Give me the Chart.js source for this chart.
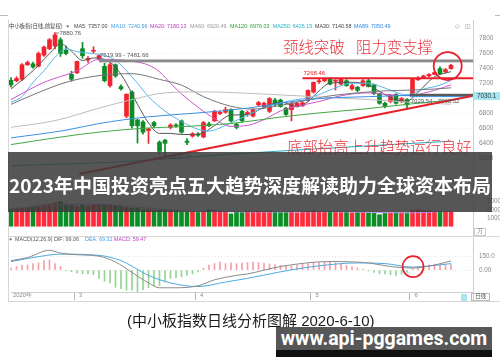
<!DOCTYPE html>
<html><head><meta charset="utf-8">
<script src="https://cdn.jsdelivr.net/npm/chart.js@4.4.0/dist/chart.umd.min.js"></script>
<style>
html,body{margin:0;padding:0;background:#fff;width:500px;height:362px;overflow:hidden;}
body{position:relative;font-family:"Liberation Sans",Arial,sans-serif;}
canvas{position:absolute;left:0;}
.t{position:absolute;white-space:nowrap;line-height:1;}
.hd{font-size:5.4px;top:23.5px;}
.ln{position:absolute;background:#d6d6d6;}
.red{color:#e8343c;font-family:"Noto Sans CJK SC",sans-serif;font-weight:300;font-size:15.4px;}
</style></head><body>
<canvas id="cp" width="500" height="188" style="top:0"></canvas>
<canvas id="cv" width="500" height="50" style="top:186px"></canvas>
<canvas id="cm" width="500" height="66" style="top:236px"></canvas>

<div class="ln" style="left:0;top:15px;width:8px;height:1px;background:#bbb"></div>
<div class="ln" style="left:495px;top:15px;width:5px;height:1px;background:#bbb"></div>
<div class="ln" style="left:8px;top:20px;width:1px;height:282px"></div>
<div class="ln" style="left:473px;top:20px;width:1px;height:282px;background:#cfcfcf"></div>
<div class="ln" style="left:8px;top:236px;width:492px;height:1px"></div>
<div class="ln" style="left:8px;top:301px;width:492px;height:1px"></div>

<div class="t hd" style="left:9px;color:#444;font-family:'Noto Sans CJK SC',sans-serif">中小板指(日线,前复权)</div>
<div class="t hd" style="left:66px;color:#777">●</div>
<div class="t hd" style="left:74px;color:#444">MA5: 7357.00</div>
<div class="t hd" style="left:111px;color:#3aa0e8">MA10: 7240.96</div>
<div class="t hd" style="left:150px;color:#c038c0">MA20: 7180.13</div>
<div class="t hd" style="left:190px;color:#9a9a9a">MA60: 6920.49</div>
<div class="t hd" style="left:230px;color:#2e9e3a">MA120: 6976.03</div>
<div class="t hd" style="left:272.7px;color:#1fb0c8">MA250: 6426.15</div>
<div class="t hd" style="left:315px;color:#444">MA30: 7140.58</div>
<div class="t hd" style="left:354px;color:#2f86e0">MA89: 7050.49</div>
<div class="t" style="left:455px;top:23px;font-size:6px;color:#777">◇</div>
<div class="t" style="left:465px;top:23px;font-size:6px;color:#777">◫</div>

<div class="t" style="left:9px;top:237px;font-size:5.4px;color:#777">●</div>
<div class="t" style="left:15px;top:237px;font-size:5.4px;color:#555">MACD(12,26,9) DIF: 99.06</div>
<div class="t" style="left:85px;top:237px;font-size:5.4px;color:#3aa0e8">DEA: 69.32</div>
<div class="t" style="left:114px;top:237px;font-size:5.4px;color:#c038c0">MACD: 59.47</div>

<div class="t" style="left:474px;top:228px;font-size:5.5px;color:#777;border:1px solid #ccc;padding:0 2px">万</div>
<div class="t" style="left:461px;top:294px;width:6px;height:7px;background:#a8e6ee"></div>
<div class="t" style="left:471px;top:293px;font-size:5.5px;color:#555;border:1px solid #bbb;padding:0 3px;font-family:'Noto Sans CJK SC',sans-serif">日线</div>

<div class="t red" style="left:283px;top:39px">颈线突破</div>
<div class="t red" style="left:356px;top:39px">阻力变支撑</div>
<div class="t red" style="left:287px;top:138.5px">底部抬高上升趋势运行良好</div>

<div style="position:absolute;left:8px;top:152px;width:484px;height:60px;background:rgba(58,58,58,0.86);"></div>
<div class="t" style="left:8px;top:175px;width:484px;text-align:center;color:#fff;font-family:'Noto Sans CJK SC',sans-serif;font-weight:700;font-size:19px;">2023年中国投资亮点五大趋势深度解读助力全球资本布局</div>

<div class="t" style="left:127px;top:313px;font-size:15px;color:#1a1a1a;font-family:'Liberation Sans','Noto Sans CJK SC',sans-serif;">(中小板指数日线分析图解 2020-6-10)</div>
<div style="position:absolute;left:276px;top:327px;width:216px;height:23px;background:#575757;"></div>
<div style="position:absolute;left:276px;top:350px;width:216px;height:7px;background:#111;"></div>
<div class="t" style="left:276px;top:329px;width:216px;text-align:center;color:#fff;font-family:Roboto,sans-serif;font-weight:700;font-size:19.5px;">www.api-pggames.com</div>

<script>
// ---------------- DATA ----------------
const dates = ['2020-02-13','2020-02-14','2020-02-17','2020-02-18','2020-02-19','2020-02-20','2020-02-21','2020-02-24','2020-02-25','2020-02-26','2020-02-27','2020-02-28',
'2020-03-02','2020-03-03','2020-03-04','2020-03-05','2020-03-06','2020-03-09','2020-03-10','2020-03-11','2020-03-12','2020-03-13','2020-03-16','2020-03-17','2020-03-18','2020-03-19','2020-03-20','2020-03-23','2020-03-24','2020-03-25','2020-03-26','2020-03-27','2020-03-30','2020-03-31',
'2020-04-01','2020-04-02','2020-04-03','2020-04-07','2020-04-08','2020-04-09','2020-04-10','2020-04-13','2020-04-14','2020-04-15','2020-04-16','2020-04-17','2020-04-20','2020-04-21','2020-04-22','2020-04-23','2020-04-24','2020-04-27','2020-04-28','2020-04-29','2020-04-30',
'2020-05-06','2020-05-07','2020-05-08','2020-05-11','2020-05-12','2020-05-13','2020-05-14','2020-05-15','2020-05-18','2020-05-19','2020-05-20','2020-05-21','2020-05-22','2020-05-25','2020-05-26','2020-05-27','2020-05-28','2020-05-29',
'2020-06-01','2020-06-02','2020-06-03','2020-06-04','2020-06-05','2020-06-08','2020-06-09','2020-06-10'];
const padSlots = 4;

const open  = [7243,7235,7255,7449,7462,7430,7578,7664,7700,7784,7642,7320,
  7342,7664,7513,7630,7535,7428,7170,7450,7157,6761,7084,6710,6684,6568,6675,6413,6439,6610,6640,6697,6426,6494,
  6520,6481,6658,6697,6796,6813,6848,6654,6826,6780,6761,6913,6890,6826,6977,6977,6868,6848,6890,6900,6977,
  7084,7222,7235,7268,7230,7190,7235,7127,7148,7170,7235,7183,7062,6933,6955,7054,6955,6985,
  7062,7248,7277,7299,7320,7397,7355,7397];
const high  = [7276,7290,7465,7500,7485,7620,7700,7800,7880.76,7810,7700,7364,
  7500,7750,7560,7690,7590,7470,7470,7460,7180,7060,7100,6720,6700,6600,6690,6430,6450,6660,6660,6710,6461,6540,
  6540,6690,6680,6840,6830,6880,6860,6670,6840,6830,6860,6960,6950,7010,7000,6990,6880,6950,6950,6960,7115,
  7220,7268,7268,7275,7250,7268,7250,7190,7160,7250,7260,7190,7070,6950,7050,7060,7010,6995,
  7268,7290,7310,7330,7350,7420,7400,7455];
const low   = [7148,7220,7240,7440,7405,7420,7560,7650,7660,7560,7580,7230,
  7330,7535,7480,7610,7510,7220,7150,7280,7110,6740,6600,6400,6520,6396,6610,6260,6222.77,6590,6610,6530,6380,6480,
  6490,6470,6620,6690,6780,6800,6680,6590,6680,6760,6750,6900,6870,6810,6900,6880,6770,6697,6880,6890,6960,
  7070,7200,7220,7180,7110,7180,7160,7110,7090,7160,7150,7050,6920,6870,6940,6920,6940,6850,
  7050,7240,7265,7290,7315,7320,7340,7390];
const close = [7178,7265,7449,7480,7419,7600,7686,7784,7850,7600,7600,7255,
  7493,7570,7535,7640,7570,7235,7450,7300,7127,7054,6632,6632,6546,6590,6632,6288,6397,6641,6630,6546,6409,6525,
  6505,6675,6632,6826,6813,6848,6697,6610,6697,6810,6848,6942,6933,6997,6913,6890,6783,6933,6933,6940,7106,
  7213,7235,7255,7190,7238,7255,7170,7170,7106,7235,7157,7062,6933,6890,7041,6933,6997,6912,
  7255,7268,7299,7320,7345,7329,7384,7441];
const volume = [20100,21000,21900,22700,24000,24800,26300,26800,28700,30000,26800,26300,
  24000,26800,24000,26300,26300,26300,26300,24800,24000,22700,21900,21900,20100,20100,19300,19300,19300,19300,18900,17400,17000,17000,
  16700,18500,20100,19300,18500,17000,15000,17400,16700,17800,17000,18100,17400,18500,17000,16700,16700,17400,16300,17000,18000,
  18900,17800,17000,18000,17400,16700,17000,16300,16700,17000,16300,15600,14000,15600,16300,16700,16700,16300,
  19600,20100,19300,18900,18500,18500,17800,17400];

// moving averages: [index, value]
const ma5Pts   = [[0,7124],[4,7370],[7,7597],[9,7730],[11,7630],[13,7507],[15,7540],[17,7520],[19,7420],[21,7200],[23,6920],[25,6670],[27,6530],[29,6530],[31,6515],[33,6515],[35,6540],[37,6635],[40,6775],[43,6780],[46,6880],[49,6950],[52,6890],[54,6955],[56,7100],[58,7205],[62,7215],[65,7178],[67,7092],[70,6978],[72,6962],[74,7080],[77,7288],[80,7357]];
const ma10Pts  = [[0,6945],[2,7022],[4,7214],[6,7368],[8,7548],[10,7663],[12,7625],[15,7599],[17,7573],[19,7509],[21,7368],[23,7201],[25,7022],[28,6829],[31,6688],[34,6585],[36,6560],[39,6637],[42,6739],[45,6842],[48,6919],[51,6970],[55,7022],[58,7111],[62,7201],[65,7201],[68,7137],[72,7047],[75,7124],[78,7176],[80,7240.96]];
const ma20Pts  = [[0,6983],[6,7214],[12,7368],[16,7522],[22,7496],[25,7445],[27,7355],[29,7201],[31,7060],[34,6881],[37,6727],[40,6624],[43,6637],[46,6714],[49,6830],[52,6893],[56,6957],[60,7034],[65,7073],[69,7047],[72,7034],[76,7086],[80,7180.13]];
const ma30Pts  = [[0,6919],[4,7047],[10,7214],[16,7304],[22,7330],[27,7253],[31,7176],[35,7022],[40,6893],[44,6855],[50,6919],[57,7022],[63,7073],[68,7099],[73,7111],[77,7124],[80,7140.58]];
const ma60Pts  = [[0,6611],[8,6701],[16,6868],[22,6983],[28,7073],[35,7086],[45,7060],[55,7022],[65,6983],[73,6945],[80,6920.49]];
const ma89Pts  = [[0,6470],[10,6573],[16,6662],[25,6752],[34,6804],[43,6868],[50,6945],[56,6996],[65,7022],[73,7041],[80,7050.49]];
const ma120Pts = [[0,6380],[8,6470],[16,6547],[24,6598],[32,6624],[40,6662],[48,6739],[56,6804],[64,6855],[72,6919],[80,6976.03]];
const ma250Pts = [[0,6098],[20,6149],[40,6252],[60,6342],[80,6426.15]];
const volMaPts = [[0,21000],[8,25500],[16,26500],[24,22500],[32,18500],[40,17500],[48,17200],[56,17600],[64,17000],[72,16200],[80,18300]];

const dif = [[0,102],[3,135],[7,214],[9,183],[12,166],[16,150],[19,87],[22,-26],[25,-139],[27,-192],[30,-192],[34,-170],[37,-106],[41,-58],[43,-42],[49,38],[58,92],[65,77],[69,38],[73,22],[77,54],[80,99.06]];
const dea = [[0,92],[4,135],[9,172],[16,159],[20,102],[25,-58],[29,-139],[34,-179],[39,-130],[43,-90],[49,-19],[55,38],[63,77],[68,70],[73,32],[76,44],[80,69.32]];
const macdHist = [22,38,55,55,70,77,103,109,70,38,-10,-19,-35,-42,-42,-51,-90,-122,-138,-186,-202,-218,-218,-234,-212,-193,-170,-170,-128,-90,-83,-74,-58,-42,
  -20,20,55,70,87,70,77,70,75,82,87,80,74,66,58,50,45,45,52,62,70,77,80,85,87,78,66,52,38,22,8,-10,-26,-42,-42,-51,-58,-45,-26,
  22,38,55,55,64,55,58,59.47];

const priceTicks = [6200,6400,6600,6800,7000,7200,7400,7600,7800];
const volTicks = [10000,20000,30000];
const macdTicks = [0,150];
const neckline = [7481.66,7519.99], necklineFrom = 16;
const resistance = 7268.46, resistanceFrom = 53;
const band = [7029.54,7060.52], bandFrom = 72.5;
const trend = [[12.4,5987],[83.8,7032]];
const crossValue = 7030.1;
const circlePrice = [79.4,7432];
const circleMacd = [73.1,36.6];

// ---------------- BUILD ----------------
const labels = dates.concat(Array(padSlots).fill(''));
const N = labels.length;
const RED='#f2222f', GREEN='#0c8c27';
const up = close.map((c,i)=>c>=open[i]);
const cCol = up.map(u=>u?RED:GREEN);
function sparse(pts){const a=new Array(N).fill(null);pts.forEach(([i,v])=>a[i]=v);return a;}
function line(pts,color,w){return {type:'line',data:sparse(pts),borderColor:color,borderWidth:w||1,pointRadius:0,spanGaps:true,cubicInterpolationMode:'monotone',order:1,clip:false};}

Chart.defaults.font.family='"Liberation Sans", Arial, sans-serif';
const common = {responsive:false,animation:false,devicePixelRatio:1,events:[],
  plugins:{legend:{display:false},tooltip:{enabled:false}}};
const xHidden = {type:'category',offset:false,display:false};

const pricePlugin = {id:'pa', afterDatasetsDraw(chart){
  const {ctx,chartArea:a,scales:{x,y}}=chart; ctx.save();
  const X=v=>x.getPixelForValue(v), Y=v=>y.getPixelForValue(v);
  ctx.fillStyle='#8a8a8a'; ctx.fillRect(X(necklineFrom),Y(neckline[1]),a.right-X(necklineFrom),Y(neckline[0])-Y(neckline[1]));
  ctx.fillStyle='#5a5a5a'; ctx.fillRect(X(bandFrom),Y(band[1]),a.right-X(bandFrom),Y(band[0])-Y(band[1]));
  ctx.fillStyle='#3a8fd8'; ctx.fillRect(X(bandFrom),Y(band[0]),a.right-X(bandFrom),1);
  ctx.strokeStyle='#e8202a'; ctx.lineWidth=2;
  ctx.beginPath(); ctx.moveTo(X(resistanceFrom),Y(resistance)); ctx.lineTo(a.right,Y(resistance)); ctx.stroke();
  ctx.beginPath(); ctx.moveTo(X(trend[0][0]),Y(trend[0][1])); ctx.lineTo(X(trend[1][0]),Y(trend[1][1])); ctx.stroke();
  ctx.lineWidth=1.8; ctx.beginPath(); ctx.arc(X(circlePrice[0]),Y(circlePrice[1]),14,0,Math.PI*2); ctx.stroke();
  ctx.font='6px "Liberation Sans", Arial'; ctx.textBaseline='middle'; ctx.textAlign='left';
  const hi = Math.max(...high), hiI = high.indexOf(hi);
  const lo = Math.min(...low), loI = low.indexOf(lo);
  ctx.fillStyle='#555'; ctx.strokeStyle='#777'; ctx.lineWidth=1;
  ctx.beginPath(); ctx.moveTo(X(hiI)+1,Y(hi)+0.5); ctx.lineTo(X(hiI)+4,Y(hi)+0.5); ctx.stroke();
  ctx.fillText(hi.toFixed(2),X(hiI)+4.5,Y(hi)+0.5);
  ctx.fillText(neckline[1].toFixed(2)+' - '+neckline[0].toFixed(2),X(necklineFrom)+1,Y(neckline[1])-4.5);
  ctx.fillText(band[0].toFixed(2)+' - '+band[1].toFixed(2),X(bandFrom)+1,Y(band[0])+5);
  ctx.fillText(lo.toFixed(2),X(loI)+5,Y(lo)+1);
  ctx.fillStyle='#e8202a'; ctx.fillText(resistance.toFixed(2),X(resistanceFrom)+1,Y(resistance)-4.5);
  ctx.fillStyle='#a6e7f0'; ctx.fillRect(a.right+1,Y(crossValue)-4,26,8);
  ctx.fillStyle='#333'; ctx.font='6.3px "Liberation Sans", Arial'; ctx.fillText(String(crossValue),a.right+4,Y(crossValue));
  ctx.restore();
}};

new Chart(document.getElementById('cp'),{type:'bar',
  data:{labels,datasets:[
    line(ma250Pts,'#2aa9bb'),line(ma120Pts,'#44a844'),line(ma89Pts,'#3c8fe0'),line(ma60Pts,'#bdbdbd'),
    line(ma30Pts,'#777777'),line(ma20Pts,'#cc55cc'),line(ma10Pts,'#5ab4ee'),line(ma5Pts,'#555555'),
    {type:'bar',data:dates.map((d,i)=>[low[i],high[i]]),backgroundColor:cCol,barThickness:1,grouped:false,order:10,clip:false},
    {type:'bar',data:dates.map((d,i)=>[open[i],close[i]]),backgroundColor:cCol,barThickness:4,minBarLength:1,grouped:false,order:9,clip:false}
  ]},
  options:{...common,layout:{padding:{left:11,top:22,right:0,bottom:3}},
    scales:{x:xHidden,
      y:{position:'right',min:5931,max:8022,afterFit(s){s.width=27;},
        afterBuildTicks(s){s.ticks=priceTicks.map(v=>({value:v}));},
        ticks:{font:{size:6.5},color:'#888',padding:6,callback:v=>String(v)},
        grid:{color:'#ececec',drawTicks:false},border:{display:false,dash:[1,2]}}}},
  plugins:[pricePlugin]});

new Chart(document.getElementById('cv'),{type:'bar',
  data:{labels,datasets:[
    line(volMaPts,'#b48ee6'),
    {type:'bar',data:volume,backgroundColor:up.map(u=>u?'#ff2b3b':'#0b8e25'),barThickness:4,grouped:false,order:5,clip:false}
  ]},
  options:{...common,layout:{padding:{left:11,top:0,right:0,bottom:0}},
    scales:{x:xHidden,
      y:{position:'right',min:0,max:37000,afterFit(s){s.width=27;},
        afterBuildTicks(s){s.ticks=volTicks.map(v=>({value:v}));},
        ticks:{font:{size:6.3},color:'#888',padding:6,callback:v=>String(v)},
        grid:{display:false},border:{display:false}}}}});

function monthLabel(i){
  if(i>=dates.length) return '';
  if(i===0) return dates[0].slice(0,4)+'年';
  return dates[i].slice(5,7)!==dates[i-1].slice(5,7)? String(+dates[i].slice(5,7)) : '';
}
const macdPlugin={id:'ma',afterDatasetsDraw(chart){
  const {ctx,scales:{x,y}}=chart; ctx.save();
  ctx.strokeStyle='#e8202a'; ctx.lineWidth=1.6; ctx.beginPath();
  ctx.arc(x.getPixelForValue(circleMacd[0]),y.getPixelForValue(circleMacd[1]),10.5,0,Math.PI*2); ctx.stroke(); ctx.restore();
}};
new Chart(document.getElementById('cm'),{type:'bar',
  data:{labels,datasets:[
    line(dif,'#8a8a8a'),line(dea,'#4da8e6'),
    {type:'bar',data:macdHist,backgroundColor:macdHist.map(v=>v>=0?'#f4a0a6':'#94d496'),barThickness:1,grouped:false,order:5,clip:false}
  ]},
  options:{...common,layout:{padding:{left:11,top:4,right:0,bottom:0}},
    scales:{
      x:{type:'category',offset:false,position:'bottom',afterFit(s){s.height=10;},
        ticks:{autoSkip:false,maxRotation:0,minRotation:0,align:'start',labelOffset:2,padding:-8,font:{size:5.8},color:'#888',
          callback:(v,i)=>monthLabel(i)},
        grid:{drawOnChartArea:false,drawTicks:true,tickLength:8,color:c=>(c.index>0&&monthLabel(c.index))?'#b5b5b5':'rgba(0,0,0,0)'},
        border:{display:true,color:'#cfcfcf'}},
      y:{position:'right',min:-237.6,max:262.6,afterFit(s){s.width=27;},
        afterBuildTicks(s){s.ticks=macdTicks.map(v=>({value:v}));},
        ticks:{font:{size:6.3},color:'#888',padding:6,callback:v=>v===0?'0.00':v.toFixed(1)},
        grid:{color:'#e6e6e6',drawTicks:false},border:{display:false,dash:[1,2]}}}},
  plugins:[macdPlugin]});
</script>
</body></html>
